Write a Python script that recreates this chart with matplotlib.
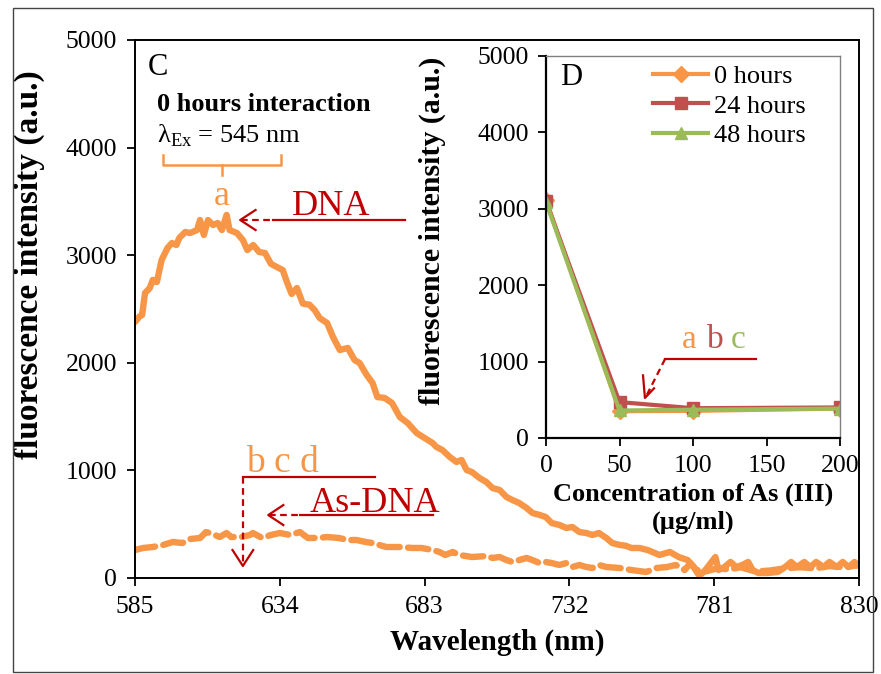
import matplotlib
matplotlib.use("Agg")
import matplotlib.pyplot as plt
from matplotlib.lines import Line2D

plt.rcParams['font.family'] = ['Liberation Serif', 'DejaVu Serif']
plt.rcParams['mathtext.fontset'] = 'custom'
plt.rcParams['mathtext.rm'] = 'Liberation Serif'

# ---------------- data ----------------
dna_wl = [585.0, 586.5, 587.4, 588.4, 590.0, 591.0, 592.4, 594.0, 596.0, 597.5, 599.0, 600.0,
          602.0, 603.6, 606.0, 607.0, 608.3, 609.7, 611.4, 613.0, 614.4, 616.0, 617.0, 619.5,
          621.5, 623.0, 625.0, 627.0, 629.0, 631.0, 633.0, 635.0, 636.4, 638.0, 639.8, 641.8,
          644.0, 645.8, 647.5, 650.0, 652.0, 654.3, 657.0, 659.3, 661.0, 663.4, 665.4, 667.0,
          669.5, 672.0, 674.6, 677.3, 680.3, 683.0, 685.7, 687.0, 689.0, 691.5, 693.8, 695.5,
          697.2, 699.0, 701.6, 703.9, 706.0, 708.4, 710.7, 712.7, 715.0, 717.5, 719.5, 721.9,
          724.0, 726.0, 728.6, 731.0, 733.0, 735.4, 737.7, 739.8, 742.0, 744.5, 746.5, 749.0,
          751.0, 753.0, 755.7, 758.5, 762.5, 766.0, 769.0, 772.0, 774.0, 776.0, 778.0, 781.4,
          782.5, 784.5, 786.5, 788.5, 790.5, 792.5, 794.0, 796.0, 799.0, 802.5, 805.0, 807.0,
          809.0, 811.5, 813.5, 815.5, 818.0, 820.0, 822.5, 824.5, 826.5, 828.5, 830.0]
dna_int = [2380, 2430, 2444, 2649, 2695, 2770, 2751, 2955, 3067, 3113, 3095, 3160,
           3216, 3206, 3234, 3327, 3188, 3327, 3281, 3299, 3234, 3374, 3234, 3206,
           3141, 3048, 3095, 3030, 3020, 2920, 2890, 2862, 2751, 2640, 2695, 2550,
           2540, 2490, 2416, 2370, 2240, 2119, 2138, 2026, 1998, 1887, 1812, 1682,
           1673, 1626, 1496, 1440, 1348, 1301, 1255, 1218, 1190, 1125, 1078, 1097,
           1004, 985, 929, 892, 836, 818, 753, 725, 697, 651, 604, 586,
           567, 511, 493, 465, 474, 427, 418, 400, 418, 372, 325, 307,
           300, 279, 279, 260, 214, 242, 195, 167, 102, 20, 74, 195,
           74, 102, 149, 102, 121, 149, 74, 46, 46, 56, 102, 149,
           102, 149, 102, 149, 102, 149, 102, 149, 102, 149, 110]

asdna_wl = [585.0, 587.7, 591.0, 594.5, 597.8, 601.0, 603.6, 607.0, 609.0, 610.3, 613.7, 616.0,
            617.5, 621.0, 623.9, 624.9, 628.0, 631.0, 634.0, 637.5, 640.8, 643.5, 647.0, 650.0,
            654.0, 657.0, 660.0, 663.0, 665.4, 670.0, 674.6, 679.0, 682.0, 685.7, 688.0, 690.0,
            692.5, 694.8, 699.0, 704.0, 706.0, 708.4, 710.7, 712.7, 715.0, 717.5, 719.5, 721.9,
            724.0, 726.0, 728.6, 731.0, 733.0, 735.4, 737.7, 739.8, 742.0, 744.5, 749.0, 753.0,
            758.0, 761.5, 765.0, 768.0, 771.0, 773.0, 775.0, 778.0, 782.0, 786.0, 790.0, 795.0,
            800.0, 805.0, 810.0, 815.0, 820.0, 825.0, 830.0]
asdna_int = [260, 279, 288, 307, 335, 325, 362, 372, 427, 418, 381, 418,
             381, 381, 400, 418, 372, 400, 418, 400, 427, 372, 372, 381,
             372, 353, 353, 335, 325, 288, 288, 279, 279, 260, 242, 214,
             242, 214, 195, 204, 186, 195, 167, 149, 167, 186, 167, 139,
             149, 139, 121, 139, 102, 121, 102, 93, 121, 102, 93, 74,
             56, 93, 102, 121, 74, 139, 74, 60, 90, 80, 100, 60,
             70, 90, 100, 90, 110, 100, 120]

main_xticks = [585, 634, 683, 732, 781, 830]
main_yticks = [0, 1000, 2000, 3000, 4000, 5000]

conc = [0, 50, 100, 200]
h0 = [3120, 350, 355, 385]
h24 = [3100, 470, 390, 400]
h48 = [3090, 360, 370, 385]
series_labels = ['0 hours', '24 hours', '48 hours']
inset_xticks = [0, 50, 100, 150, 200]
inset_yticks = [0, 1000, 2000, 3000, 4000, 5000]

ORANGE = '#F79646'
RED = '#C0504D'
GREEN = '#9BBB59'
DRED = '#C00000'

# ---------------- figure ----------------
W, H = 881, 674
fig = plt.figure(figsize=(W / 100, H / 100), dpi=100)
fig.patch.set_facecolor('white')
fig.add_artist(plt.Rectangle((13 / W, 2 / H), 860 / W, 664 / H, transform=fig.transFigure,
                             fill=False, edgecolor='#444444', linewidth=1.0))

ax = fig.add_axes([135 / W, 1 - 578 / H, 724 / W, 538 / H])
ax.plot(dna_wl, dna_int, color=ORANGE, lw=4.6, solid_capstyle='round', solid_joinstyle='round')
ax.plot(asdna_wl, asdna_int, color=ORANGE, lw=4.6, linestyle=(0, (3.2, 1.3)),
        dash_capstyle='round', solid_joinstyle='round')
ax.set_xlim(585, 830)
ax.set_ylim(0, 5000)
ax.set_xticks(main_xticks)
ax.set_yticks(main_yticks)
ax.tick_params(direction='out', length=6, width=1.3, labelsize=18.5, pad=7)
for s in ax.spines.values():
    s.set_linewidth(1.4)
ax.set_xlabel('Wavelength (nm)', fontsize=21, fontweight='bold', labelpad=8)
ax.set_ylabel('fluorescence intensity (a.u.)', fontsize=24, fontweight='bold')
ax.yaxis.set_label_coords(-0.124, (578 - 265) / 538)

# annotations on main panel
ax.text(589.4, 4675, 'C', fontsize=22, ha='left', va='baseline')
ax.text(592.4, 4340, '0 hours interaction', fontsize=19, fontweight='bold', ha='left', va='baseline')
ax.text(592.4, 4043, r'λ$_{\mathrm{Ex}}$ = 545 nm', fontsize=19, ha='left', va='baseline')
# brace
ax.add_line(Line2D([594.5, 594.5, 634.3, 634.3], [3931, 3838, 3838, 3931], color=ORANGE, lw=1.8))
ax.add_line(Line2D([614.4, 614.4], [3838, 3745], color=ORANGE, lw=1.8))
ax.text(614.4, 3466, 'a', fontsize=26, color=ORANGE, ha='center', va='baseline')

# DNA label and arrow
ax.text(638.1, 3373, 'DNA', fontsize=26, color=DRED, ha='left', va='baseline')
ax.add_line(Line2D([631.6, 676.2], [3327, 3327], color=DRED, lw=1.6))
ax.add_line(Line2D([621.0, 631.6], [3327, 3327], color=DRED, lw=1.6, linestyle=(0, (3, 2))))
ax.add_line(Line2D([625.8, 620.6, 625.8], [3420, 3327, 3234], color=DRED, lw=1.6))

# As-DNA label and arrow
ax.text(644.1, 613, 'As-DNA', fontsize=26, color=DRED, ha='left', va='baseline')
ax.add_line(Line2D([640.8, 685.7], [585, 585], color=DRED, lw=1.6))
ax.add_line(Line2D([630.5, 640.8], [585, 585], color=DRED, lw=1.6, linestyle=(0, (3, 2))))
ax.add_line(Line2D([635.2, 630.1, 635.2], [678, 585, 492], color=DRED, lw=1.6))

# b c d label and arrow
ax.text(622.5, 985, 'b c d', fontsize=27, color=ORANGE, ha='left', va='baseline')
ax.add_line(Line2D([621.5, 666.1], [939, 939], color=DRED, lw=1.6))
ax.add_line(Line2D([621.5, 621.5], [939, 130], color=DRED, lw=1.6, linestyle=(0, (3, 2))))
ax.add_line(Line2D([618.0, 621.5, 625.0], [260, 112, 260], color=DRED, lw=1.6))

# ---------------- inset ----------------
ins = fig.add_axes([546 / W, 1 - 438 / H, 294 / W, 382 / H])
ins.set_facecolor('white')
ins.plot(conc, h0, color=ORANGE, lw=3, marker='D', ms=8, label=series_labels[0])
ins.plot(conc, h24, color=RED, lw=3, marker='s', ms=9, label=series_labels[1])
ins.plot(conc, h48, color=GREEN, lw=3, marker='^', ms=9, label=series_labels[2])
ins.set_xlim(0, 200)
ins.set_ylim(0, 5000)
ins.set_xticks(inset_xticks)
ins.set_yticks(inset_yticks)
ins.tick_params(direction='out', length=6, width=1.3, labelsize=18.5, pad=6)
for side in ['left', 'bottom']:
    ins.spines[side].set_linewidth(1.6)
for side in ['top', 'right']:
    ins.spines[side].set_color('#808080')
    ins.spines[side].set_linewidth(1.0)
for lab in ins.get_xticklabels() + ins.get_yticklabels():
    lab.set_clip_on(False)
ins.set_xlabel('Concentration of As (III)\n(µg/ml)', fontsize=19, fontweight='bold',
               labelpad=4, linespacing=1.3)
ins.set_ylabel('fluorescence intensity (a.u.)', fontsize=21.5, fontweight='bold')
ins.yaxis.set_label_coords(-0.34, (438 - 231) / 382)
leg = ins.legend(loc='upper right', bbox_to_anchor=(0.945, 1.025), frameon=False, fontsize=19,
                 handlelength=2.1, handletextpad=0.2, labelspacing=0.22, borderpad=0.2)
ins.text(9.5, 4620, 'D', fontsize=22, ha='left', va='baseline')

# a b c
ins.text(92.5, 1178, 'a', fontsize=24, color=ORANGE, ha='left', va='baseline')
ins.text(109.5, 1178, 'b', fontsize=24, color=RED, ha='left', va='baseline')
ins.text(125.5, 1178, 'c', fontsize=24, color=GREEN, ha='left', va='baseline')
ins.add_line(Line2D([81, 143], [1034, 1034], color=DRED, lw=1.6))
ins.add_line(Line2D([81, 68.5], [1034, 560], color=DRED, lw=1.6, linestyle=(0, (3, 2))))
ins.add_line(Line2D([66.0, 67.3, 73.5], [820, 524, 650], color=DRED, lw=1.6))

fig.savefig('out.png', dpi=100)
